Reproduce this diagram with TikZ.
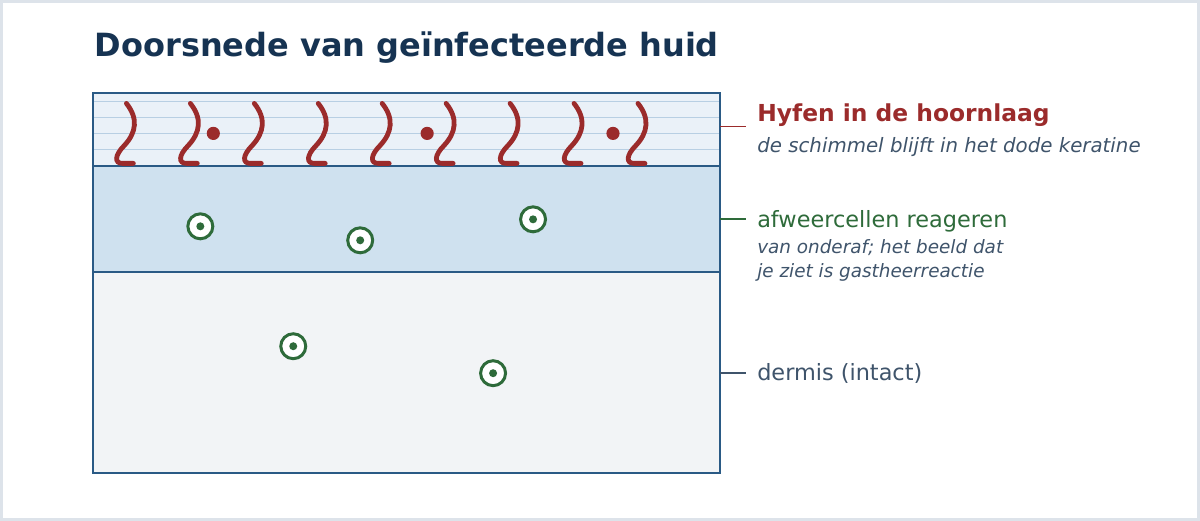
\documentclass[tikz,border=0pt]{standalone}
\usepackage{fontspec}
\setmainfont{DejaVu Sans}
\usetikzlibrary{positioning}
\definecolor{titleblue}{HTML}{163352}
\definecolor{hyphared}{HTML}{9B2B2B}
\definecolor{cellgreen}{HTML}{2E6B3A}
\definecolor{textgray}{HTML}{3F546B}
\definecolor{boxblue}{HTML}{2A5A85}
\definecolor{hornfill}{HTML}{EAF1F8}
\definecolor{epifill}{HTML}{CFE1EF}
\definecolor{dermfill}{HTML}{F2F4F6}
\definecolor{hornline}{HTML}{B8CFE3}
\definecolor{frame}{HTML}{DDE3EA}
\tikzset{
  layer/.style={draw=boxblue, line width=1pt},
  hypha/.style={draw=hyphared, line width=2.4pt, line cap=round},
  cell/.style={circle, draw=cellgreen, fill=white, line width=1.5pt, minimum size=12.5pt, inner sep=0pt},
  lead/.style={line width=0.9pt},
  lbl/.style={anchor=west, inner sep=0pt, align=left}
}
\begin{document}
\begin{tikzpicture}[x=0.5pt, y=-0.5pt]
    % frame
    \draw[frame, line width=1.5pt, fill=white] (1,1) rectangle (1199,519);
    \useasboundingbox (0,0) rectangle (1200,520);

    % title
    \node[lbl, anchor=base west, text=titleblue, font=\bfseries\fontsize{16}{19}\selectfont] (title) at (94,56) {Doorsnede van geïnfecteerde huid};

    % layers
    \path[fill=hornfill] (93,93) rectangle (720,166);
    \foreach \y in {101,117,133,149}
        \draw[hornline, line width=0.6pt] (93,\y) -- (720,\y);
    \draw[layer, fill=epifill] (93,166) rectangle (720,272);
    \draw[layer, fill=dermfill] (93,272) rectangle (720,473);
    \draw[layer] (93,93) rectangle (720,473);

    % hyphae
    \foreach \x in {126,190,254,318,382,446,510,574,638}
        \draw[hypha] (\x,103) .. controls (\x+12,118) and (\x+10,132) .. (\x-2,145)
            .. controls (\x-12,155) and (\x-12,163) .. (\x-4,163) -- (\x+7,163);
    \foreach \x in {213,427,613}
        \fill[hyphared] (\x,133) circle (3.3pt);

    % immune cells
    \foreach \x/\y [count=\i] in {200/226,360/240,533/219,293/346,493/373} {
        \node[cell] (c\i) at (\x,\y) {};
        \fill[cellgreen] (c\i) circle (2pt);
    }

    % leaders
    \coordinate (h0) at (720,126); \coordinate (h1) at (746,126);
    \coordinate (e0) at (720,219); \coordinate (e1) at (746,219);
    \coordinate (d0) at (720,373); \coordinate (d1) at (746,373);
    \draw[lead, hyphared] (h0) -- (h1);
    \draw[lead, cellgreen] (e0) -- (e1);
    \draw[lead, textgray] (d0) -- (d1);

    % labels
    \node[lbl, anchor=base west, text=hyphared, font=\bfseries\fontsize{11.7}{14}\selectfont] (hyf) at (757,121) {Hyfen in de hoornlaag};
    \node[lbl, anchor=base west, text=textgray, font=\itshape\fontsize{9.9}{12}\selectfont] (hyfsub) at (757,152) {de schimmel blijft in het dode keratine};
    \node[lbl, anchor=base west, text=cellgreen, font=\fontsize{11.2}{14}\selectfont] (afw) at (757,227) {afweercellen reageren};
    \node[lbl, anchor=north west, text=textgray, font=\itshape\fontsize{9.2}{12}\selectfont] (afwsub) at (757,239) {van onderaf; het beeld dat\\je ziet is gastheerreactie};
    \node[lbl, anchor=base west, text=textgray, font=\fontsize{11.2}{14}\selectfont] (derm) at (757,380) {dermis (intact)};
\end{tikzpicture}
\end{document}
